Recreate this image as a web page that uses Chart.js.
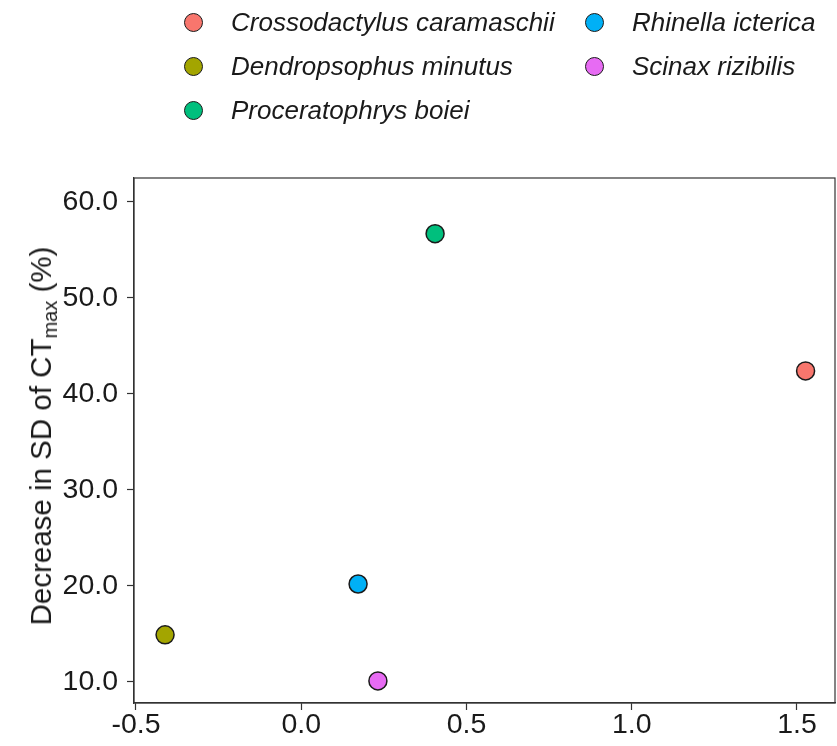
<!DOCTYPE html>
<html>
<head>
<meta charset="utf-8">
<script src="https://cdn.jsdelivr.net/npm/chart.js@4/dist/chart.umd.min.js"></script>
<style>
  html, body { margin: 0; padding: 0; background: #fff; overflow: hidden; }
  #wrap { position: relative; width: 837px; height: 746px; font-family: "Liberation Sans", Arial, sans-serif; color: #1a1a1a; }
  #c { position: absolute; left: 0; top: 0; }
  .leg { position: absolute; display: flex; align-items: center; font-style: italic; font-size: 26px; white-space: nowrap; color: #1a1a1a; }
  .leg .dot { width: 17px; height: 17px; border-radius: 50%; border: 1.5px solid #1a1a1a; margin-right: 28px; flex: none; }
  #ytitle { position: absolute; left: 41px; top: 436px; transform: translate(-50%, -50%) rotate(-90deg); font-size: 29.5px; white-space: nowrap; color: #1a1a1a; }
  #ytitle sub { font-size: 0.68em; vertical-align: -0.3em; line-height: 0; }
</style>
</head>
<body>
<div id="wrap">
  <canvas id="c" width="837" height="746"></canvas>
  <div id="legend"></div>
  <div id="ytitle">Decrease in SD of CT<sub>max</sub> (%)</div>
</div>
<script>
// ---- data ----
const species = ["Crossodactylus caramaschii", "Dendropsophus minutus", "Proceratophrys boiei", "Rhinella icterica", "Scinax rizibilis"];
const xValues = [1.526, -0.412, 0.405, 0.172, 0.232];
const yValues = [42.4, 14.9, 56.7, 20.2, 10.1];
const colors = ["#F8766D", "#A3A500", "#00BF7D", "#00B0F6", "#E76BF3"];
const xTicks = [-0.5, 0.0, 0.5, 1.0, 1.5];
const yTicks = [10, 20, 30, 40, 50, 60];

// ---- legend (column-wise, 2 columns) ----
const legendPos = [
  { left: 184, top: 22 }, { left: 184, top: 66 }, { left: 184, top: 110 },
  { left: 585, top: 22 }, { left: 585, top: 66 }
];
const legend = document.getElementById('legend');
species.forEach((s, i) => {
  const d = document.createElement('div');
  d.className = 'leg';
  d.style.left = legendPos[i].left + 'px';
  d.style.top = (legendPos[i].top - 15) + 'px';
  d.style.height = '30px';
  d.innerHTML = '<span class="dot" style="background:' + colors[i] + '"></span><span>' + s + '</span>';
  legend.appendChild(d);
});

const frame = {
  id: 'frame',
  afterDraw(chart) {
    const { ctx, chartArea: a } = chart;
    ctx.save();
    ctx.strokeStyle = '#333333';
    ctx.lineWidth = 1.2;
    ctx.strokeRect(a.left, a.top, a.right - a.left, a.bottom - a.top);
    ctx.restore();
  }
};

const tickFont = { family: '"Liberation Sans", Arial, sans-serif', size: 28.5 };

new Chart(document.getElementById('c'), {
  type: 'scatter',
  data: {
    datasets: species.map((s, i) => ({
      label: s,
      data: [{ x: xValues[i], y: yValues[i] }],
      backgroundColor: colors[i],
      borderColor: '#1a1a1a',
      borderWidth: 1.5,
      pointRadius: 9,
      pointHoverRadius: 9
    }))
  },
  options: {
    responsive: false,
    animation: false,
    devicePixelRatio: 1,
    events: [],
    layout: { autoPadding: false, padding: { top: 178, right: 2, left: 0, bottom: 0 } },
    plugins: { legend: { display: false }, tooltip: { enabled: false } },
    scales: {
      x: {
        type: 'linear',
        min: -0.506,
        max: 1.615,
        afterBuildTicks: s => { s.ticks = xTicks.map(v => ({ value: v })); },
        afterFit: s => { s.height = 43; s.paddingLeft = 0; s.paddingRight = 0; },
        ticks: { font: tickFont, color: '#1a1a1a', padding: -2, maxRotation: 0, callback: v => Number(v).toFixed(1) },
        grid: { drawOnChartArea: false, drawTicks: true, tickLength: 7, color: '#333333', tickWidth: 1.2 },
        border: { display: true, color: '#333333', width: 1.2 }
      },
      y: {
        type: 'linear',
        min: 7.8,
        max: 62.5,
        afterBuildTicks: s => { s.ticks = yTicks.map(v => ({ value: v })); },
        afterFit: s => { s.width = 134; s.paddingTop = 0; s.paddingBottom = 0; },
        ticks: { font: tickFont, color: '#1a1a1a', padding: 9, callback: v => Number(v).toFixed(1) },
        grid: { drawOnChartArea: false, drawTicks: true, tickLength: 7, color: '#333333', tickWidth: 1.2 },
        border: { display: true, color: '#333333', width: 1.2 }
      }
    }
  },
  plugins: [frame]
});
</script>
</body>
</html>
